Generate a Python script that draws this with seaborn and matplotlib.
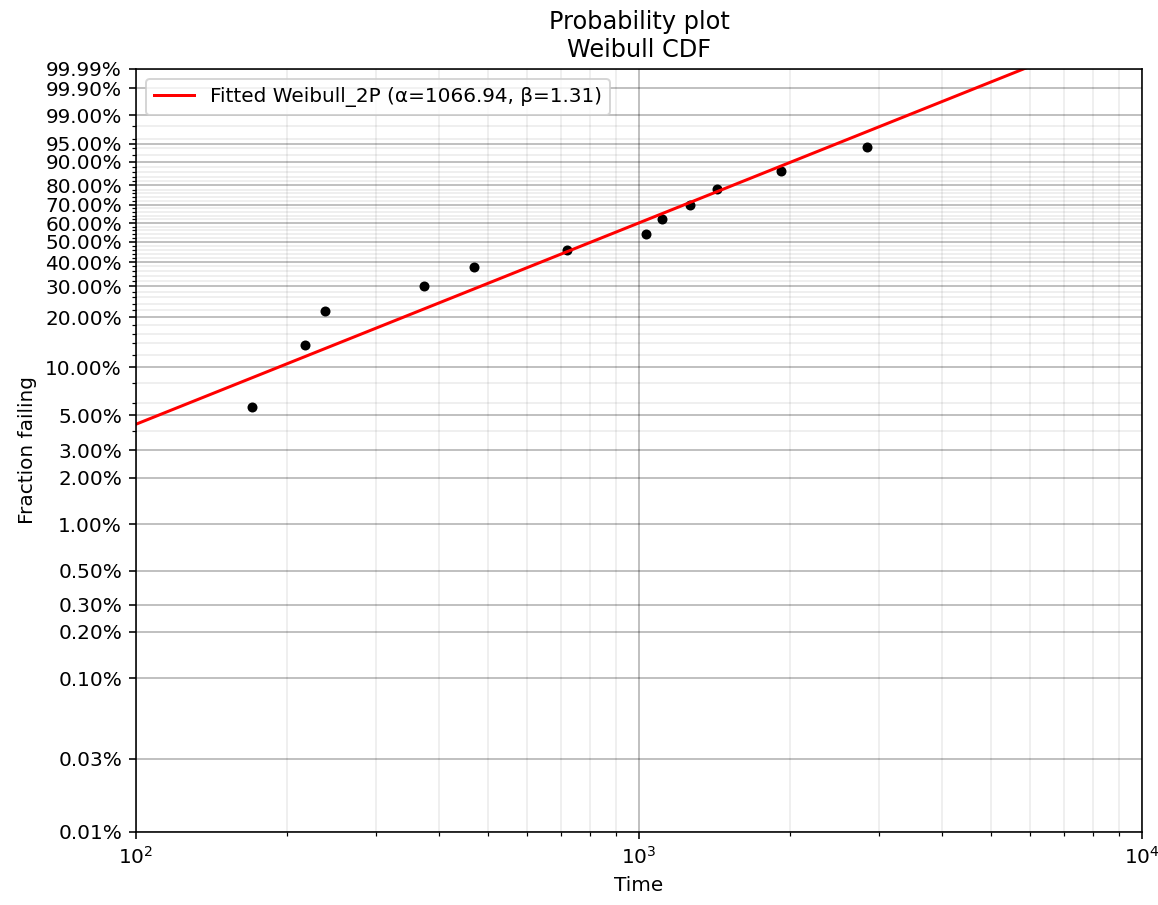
import numpy as np
import matplotlib
matplotlib.use('Agg')
import matplotlib.pyplot as plt
import matplotlib.ticker as ticker
import seaborn as sns

# Failure data (median rank fractions)
fail_times = [170, 217, 238, 373, 469, 718, 1034, 1111, 1264, 1432, 1916, 2836]
fraction_failing = [0.0565, 0.1371, 0.2177, 0.2984, 0.3790, 0.4597,
                    0.5403, 0.6210, 0.7016, 0.7823, 0.8629, 0.9435]

# Fitted Weibull_2P parameters (from legend)
alpha = 1066.94
beta = 1.31
fit_time = [100, 10000]

ytick_values = [0.0001, 0.0003, 0.001, 0.002, 0.003, 0.005, 0.01, 0.02, 0.03, 0.05,
                0.1, 0.2, 0.3, 0.4, 0.5, 0.6, 0.7, 0.8, 0.9, 0.95, 0.99, 0.999, 0.9999]
ytick_labels = ['{:.2%}'.format(v) for v in ytick_values]
ytick_minor = [round(0.02 * k, 2) for k in range(1, 50)]


def weibull_forward(F):
    F = np.clip(np.asarray(F, dtype=float), 1e-12, 1 - 1e-12)
    return np.log(-np.log(1 - F))


def weibull_inverse(y):
    return 1 - np.exp(-np.exp(y))


DPI = 144
fig = plt.figure(figsize=(1158 / DPI, 905 / DPI), dpi=DPI)
fig.set_facecolor('white')
ax = fig.add_axes([136 / 1158, 1 - 832 / 905, (1142 - 136) / 1158, (832 - 69) / 905])

ax.set_xscale('log')
ax.set_yscale('function', functions=(weibull_forward, weibull_inverse))

fit_fraction = [1 - np.exp(-(t / alpha) ** beta) for t in fit_time]
sns.lineplot(x=fit_time, y=fit_fraction, color='red', linewidth=1.5, ax=ax,
             label='Fitted Weibull_2P (α={:.2f}, β={:.2f})'.format(alpha, beta))
sns.scatterplot(x=fail_times, y=fraction_failing, color='k', s=25, linewidth=0, ax=ax)

ax.set_xlim(100, 10000)
ax.set_ylim(0.0001, 0.9999)
ax.yaxis.set_major_locator(ticker.FixedLocator(ytick_values))
ax.yaxis.set_major_formatter(ticker.FixedFormatter(ytick_labels))
ax.yaxis.set_minor_locator(ticker.FixedLocator(ytick_minor))
ax.yaxis.set_minor_formatter(ticker.NullFormatter())

ax.grid(True, which='major', color='k', alpha=0.3, linestyle='-')
ax.grid(True, which='minor', color='k', alpha=0.08, linestyle='-')

ax.set_title('Probability plot\nWeibull CDF')
ax.set_xlabel('Time')
ax.set_ylabel('Fraction failing')
ax.legend(loc='upper left')

fig.savefig('out.png', dpi=DPI)
